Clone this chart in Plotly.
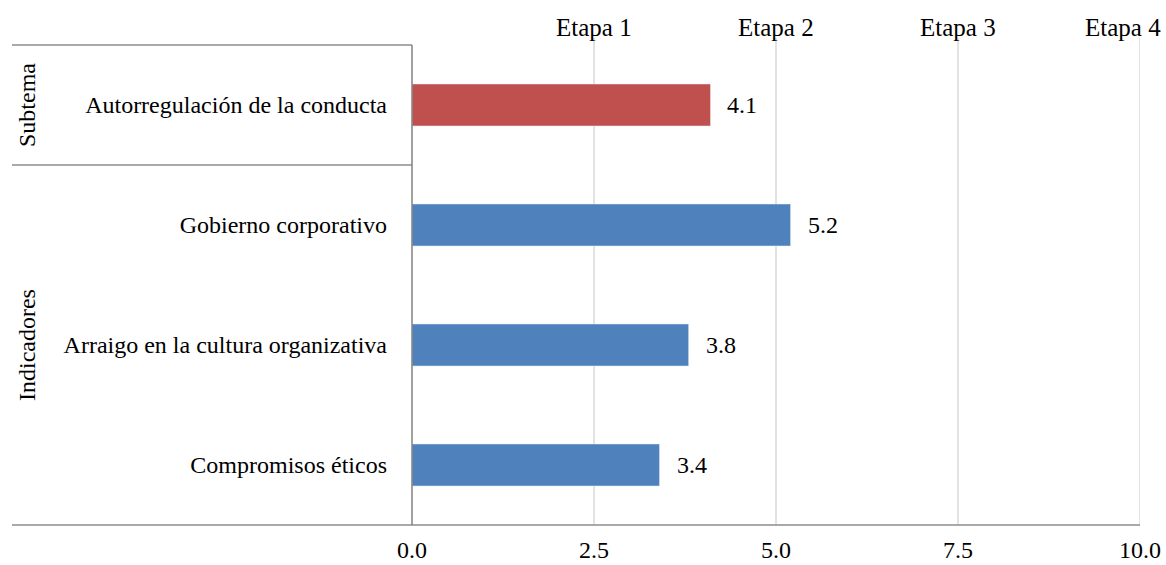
import plotly.graph_objects as go

# Data
categories = [
    "Autorregulación de la conducta",
    "Gobierno corporativo",
    "Arraigo en la cultura organizativa",
    "Compromisos éticos",
]
subtema_values = [4.1, None, None, None]
indicador_values = [None, 5.2, 3.8, 3.4]
x_ticks = [0.0, 2.5, 5.0, 7.5, 10.0]
stage_labels = ["Etapa 1", "Etapa 2", "Etapa 3", "Etapa 4"]
stage_positions = [2.5, 5.0, 7.5, 10.0]
group_labels = ["Subtema", "Indicadores"]
group_rows = ["Autorregulación de la conducta", "Arraigo en la cultura organizativa"]

FONT = "Liberation Serif"
FS = 24
FS_STAGE = 25
RED = "#C0504D"
BLUE = "#4F81BD"
GRID = "#D9D9D9"
RULE = "#8C8C8C"

W, H = 1166, 565
L, R, T, B = 412, 26, 45, 40
plot_w = W - L - R

def px_to_paper_x(px):
    return (px - L) / plot_w

fig = go.Figure()
fig.add_trace(go.Bar(
    y=categories, x=subtema_values, orientation="h",
    marker=dict(color=RED), width=0.35, showlegend=False,
))
fig.add_trace(go.Bar(
    y=categories, x=indicador_values, orientation="h",
    marker=dict(color=BLUE), width=0.35, showlegend=False,
))

annotations = []
# value labels beside bars
for cat, v in list(zip(categories, subtema_values)) + list(zip(categories, indicador_values)):
    if v is None:
        continue
    annotations.append(dict(
        x=v, y=cat, xref="x", yref="y", text=f"{v:.1f}", showarrow=False,
        xanchor="left", xshift=15, font=dict(family=FONT, size=FS, color="black"),
    ))

# stage labels above the plot
for lab, pos in zip(stage_labels, stage_positions):
    shift = -17 if pos == 10.0 else 0
    annotations.append(dict(
        x=pos, y=1, xref="x", yref="paper", yanchor="bottom", yshift=2,
        text=lab, showarrow=False, xshift=shift,
        font=dict(family=FONT, size=FS_STAGE, color="black"),
    ))

# rotated group labels on the left
for lab, row in zip(group_labels, group_rows):
    annotations.append(dict(
        x=px_to_paper_x(27), y=row, xref="paper", yref="y", text=lab,
        textangle=-90, showarrow=False, xanchor="center", yanchor="middle",
        font=dict(family=FONT, size=FS, color="black"),
    ))

shapes = []
left_edge = px_to_paper_x(12)
# vertical gridlines, slightly overrunning the top edge
for t in x_ticks[1:]:
    shapes.append(dict(type="line", xref="x", yref="paper", x0=t, x1=t,
                       y0=0, y1=1.015, line=dict(color=GRID, width=1.5), layer="below"))
# table rules on the left
shapes.append(dict(type="line", xref="paper", yref="paper", x0=left_edge, x1=0,
                   y0=1, y1=1, line=dict(color=RULE, width=1.5)))
shapes.append(dict(type="line", xref="paper", yref="y", x0=left_edge, x1=0,
                   y0=0.5, y1=0.5, line=dict(color=RULE, width=1.5)))
shapes.append(dict(type="line", xref="paper", yref="paper", x0=left_edge, x1=1,
                   y0=0, y1=0, line=dict(color=RULE, width=1.5)))
shapes.append(dict(type="line", xref="paper", yref="paper", x0=0, x1=0,
                   y0=0, y1=1, line=dict(color="#808080", width=1.5)))

fig.update_layout(
    width=W, height=H,
    margin=dict(l=L, r=R, t=T, b=B, autoexpand=False),
    paper_bgcolor="white", plot_bgcolor="white",
    barmode="overlay",
    font=dict(family=FONT, size=FS, color="black"),
    annotations=annotations,
    shapes=shapes,
    xaxis=dict(
        range=[0, 10], tickvals=x_ticks, ticktext=[f"{t:.1f}" for t in x_ticks],
        showgrid=False, zeroline=False, showline=False, ticks="", automargin=False,
        ticklabelstandoff=8, tickfont=dict(family=FONT, size=FS, color="black"),
        fixedrange=True,
    ),
    yaxis=dict(
        categoryorder="array", categoryarray=categories, automargin=False,
        showgrid=False, zeroline=False, showline=False, ticks="",
        ticklabelstandoff=24, tickfont=dict(family=FONT, size=FS, color="black"),
        range=[3.5, -0.5], fixedrange=True,
    ),
)

fig.write_html("out.html")
